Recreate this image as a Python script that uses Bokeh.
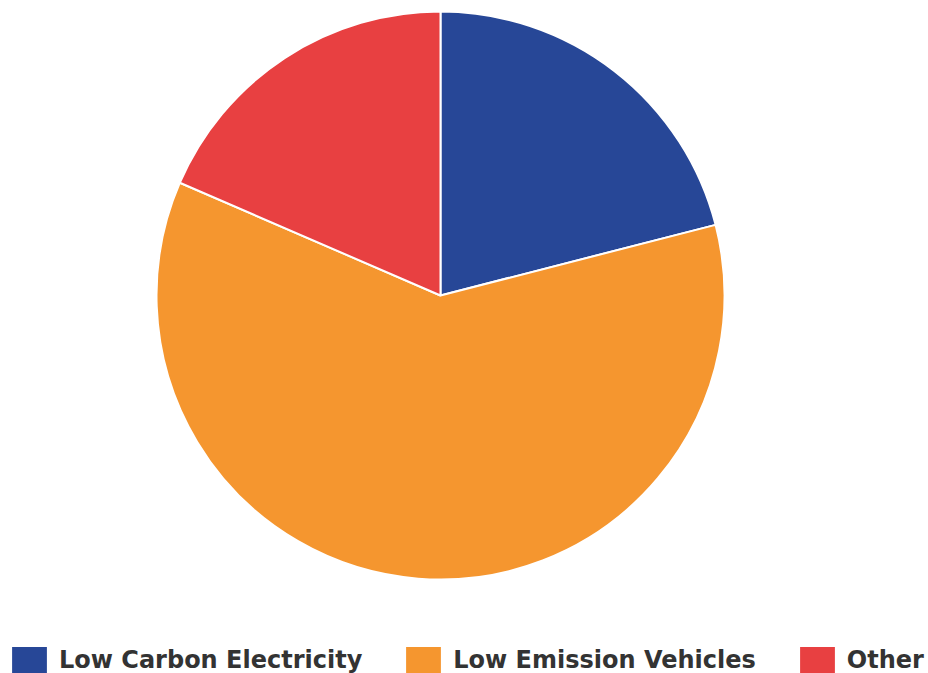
import math
from bokeh.plotting import figure
from bokeh.models import ColumnDataSource, Range1d
from bokeh.embed import file_html
from bokeh.resources import INLINE

# Data
labels = ["Low Carbon Electricity", "Low Emission Vehicles", "Other"]
shares = [21.0, 60.5, 18.5]
colors = ["#274797", "#F5962F", "#E84041"]

total = sum(shares)
starts, ends = [], []
acc = 0.0
for v in shares:
    starts.append(math.pi / 2 - 2 * math.pi * acc / total)
    acc += v
    ends.append(math.pi / 2 - 2 * math.pi * acc / total)

W, H = 928, 673
source = ColumnDataSource(dict(label=labels, share=shares, color=colors,
                               start=starts, end=ends))

p = figure(width=W, height=H, output_backend="svg", toolbar_location=None,
           x_range=Range1d(0, W), y_range=Range1d(0, H), min_border=0,
           outline_line_color=None, background_fill_color="white",
           border_fill_color="white")
p.axis.visible = False
p.grid.visible = False

cx, cy, r = 440, 378, 284
p.wedge(x=cx, y=cy, radius=r, start_angle="start", end_angle="end",
        direction="clock", fill_color="color", line_color="white",
        line_width=2, legend_field="label", source=source)

lg = p.legend[0]
lg.orientation = "horizontal"
lg.location = (6, -4)
lg.padding = 0
lg.margin = 0
lg.spacing = 38
lg.glyph_width = 46
lg.glyph_height = 35
lg.label_height = 35
lg.label_standoff = 7
lg.label_text_font = "DejaVu Sans"
lg.label_text_font_style = "bold"
lg.label_text_font_size = "24px"
lg.label_text_color = "#333333"
lg.border_line_color = None
lg.background_fill_alpha = 0

open("out.html", "w").write(file_html(p, INLINE))
